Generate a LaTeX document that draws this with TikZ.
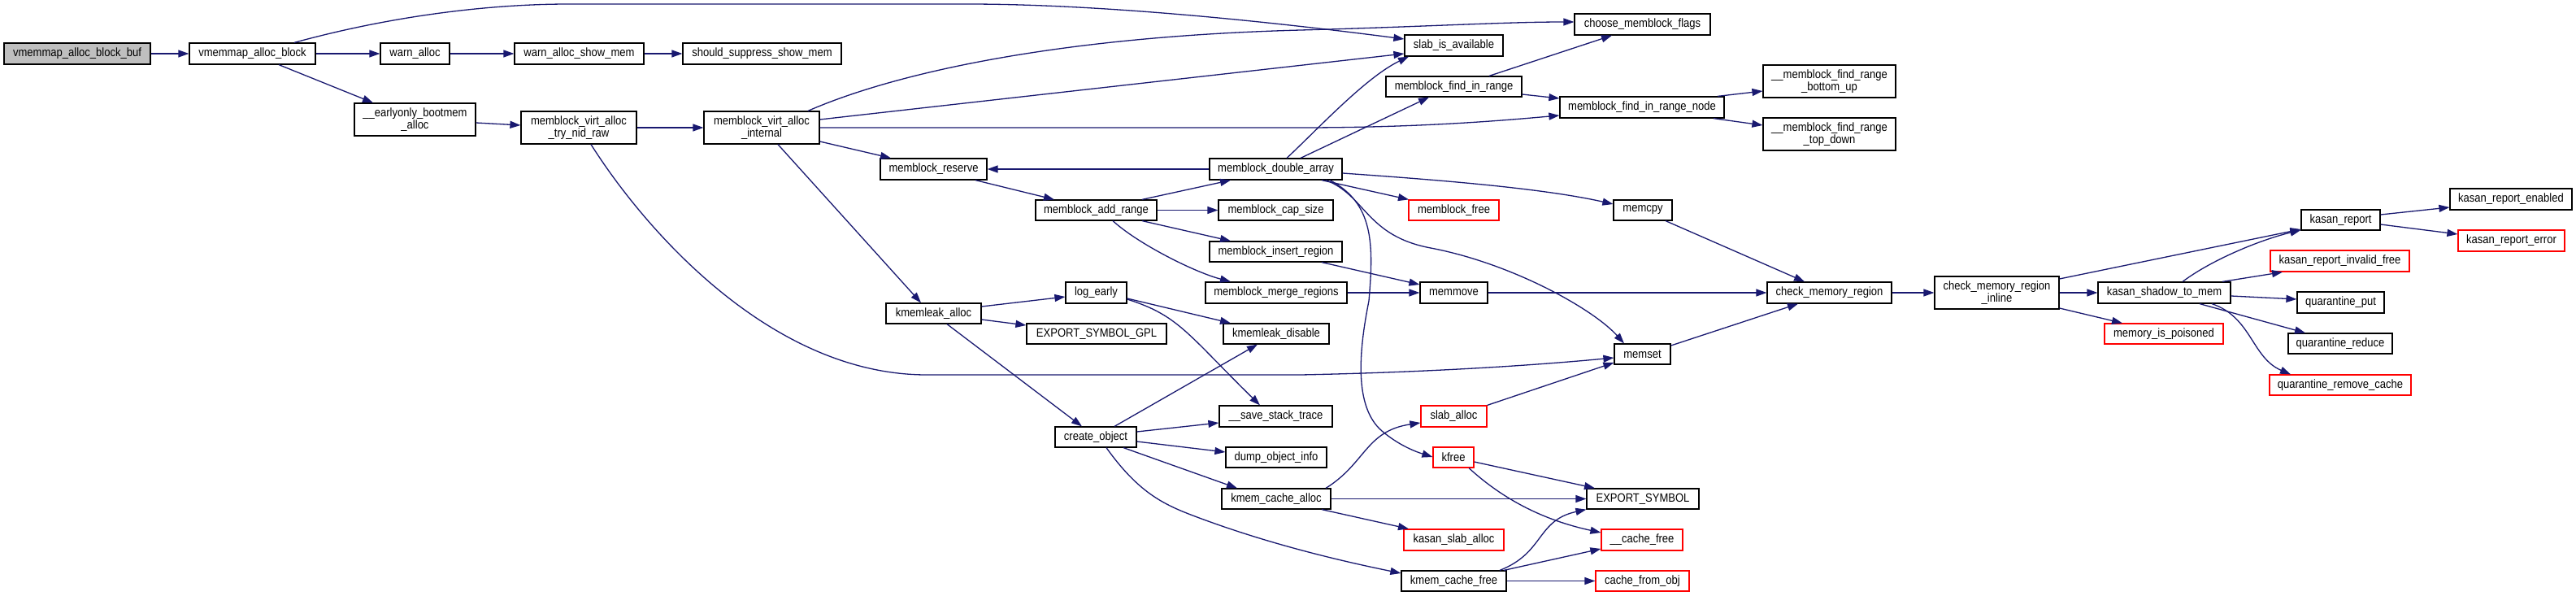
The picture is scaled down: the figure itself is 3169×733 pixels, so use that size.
\documentclass[tikz,border=0pt]{standalone}
\usepackage{fontspec}
\usetikzlibrary{arrows.meta}
\newfontfamily\nf{Liberation Sans}[FakeStretch=0.88]
\definecolor{edgeblue}{HTML}{191970}
\definecolor{rootgray}{HTML}{BFBFBF}
\definecolor{nodered}{HTML}{FF0000}
\tikzset{
  fn/.style={draw=black, line width=1.2pt, fill=white, inner sep=0pt, align=center,
    font=\nf\fontsize{14.8}{15.5}\selectfont},
  fnred/.style={fn, draw=nodered},
  fnroot/.style={fn, fill=rootgray},
  call/.style={draw=edgeblue, line width=1.3pt, -{Triangle[length=13pt,width=9pt]}},
}
\begin{document}
\begin{tikzpicture}[x=1pt,y=-1pt]
\fill[white] (0,0) rectangle (3169,733);
\useasboundingbox (0,0) rectangle (3169,733);
% nodes
\node[fnroot, minimum width=180pt, minimum height=26pt] (n1) at (95,66) {vmemmap\_alloc\_block\_buf};
\node[fn, minimum width=155pt, minimum height=26pt] (n2) at (310.5,66) {vmemmap\_alloc\_block};
\node[fn, minimum width=85pt, minimum height=26pt] (n3) at (510.5,66) {warn\_alloc};
\node[fn, minimum width=159pt, minimum height=26pt] (n4) at (712.5,66) {warn\_alloc\_show\_mem};
\node[fn, minimum width=195pt, minimum height=26pt] (n5) at (937.5,66) {should\_suppress\_show\_mem};
\node[fn, minimum width=149pt, minimum height=40pt] (n6) at (510.5,147) {\_\_earlyonly\_bootmem\\\_alloc};
\node[fn, minimum width=142pt, minimum height=40pt] (n7) at (712,157) {memblock\_virt\_alloc\\\_try\_nid\_raw};
\node[fn, minimum width=142pt, minimum height=40pt] (n8) at (937,157) {memblock\_virt\_alloc\\\_internal};
\node[fn, minimum width=131pt, minimum height=26pt] (n9) at (1148.5,208) {memblock\_reserve};
\node[fn, minimum width=163pt, minimum height=26pt] (n10) at (1569.5,208) {memblock\_double\_array};
\node[fn, minimum width=149pt, minimum height=25pt] (n11) at (1348.5,258.5) {memblock\_add\_range};
\node[fn, minimum width=141pt, minimum height=25pt] (n12) at (1569.5,258.5) {memblock\_cap\_size};
\node[fn, minimum width=163pt, minimum height=25pt] (n13) at (1569.5,309.5) {memblock\_insert\_region};
\node[fn, minimum width=174pt, minimum height=26pt] (n14) at (1570,360) {memblock\_merge\_regions};
\node[fn, minimum width=75pt, minimum height=26pt] (n15) at (1348.5,360) {log\_early};
\node[fn, minimum width=117pt, minimum height=25pt] (n16) at (1148.5,385.5) {kmemleak\_alloc};
\node[fn, minimum width=172pt, minimum height=25pt] (n17) at (1349,410.5) {EXPORT\_SYMBOL\_GPL};
\node[fn, minimum width=130pt, minimum height=25pt] (n18) at (1570,410.5) {kmemleak\_disable};
\node[fn, minimum width=139pt, minimum height=26pt] (n19) at (1569.5,512) {\_\_save\_stack\_trace};
\node[fn, minimum width=100pt, minimum height=25pt] (n20) at (1348,537.5) {create\_object};
\node[fn, minimum width=124pt, minimum height=25pt] (n21) at (1570,562.5) {dump\_object\_info};
\node[fn, minimum width=134pt, minimum height=25pt] (n22) at (1570,613.5) {kmem\_cache\_alloc};
\node[fn, minimum width=167pt, minimum height=26pt] (n23) at (2020.5,30) {choose\_memblock\_flags};
\node[fn, minimum width=121pt, minimum height=26pt] (n24) at (1788.5,56) {slab\_is\_available};
\node[fn, minimum width=167pt, minimum height=25pt] (n25) at (1788.5,106.5) {memblock\_find\_in\_range};
\node[fn, minimum width=202pt, minimum height=26pt] (n26) at (2020,132) {memblock\_find\_in\_range\_node};
\node[fn, minimum width=163pt, minimum height=40pt] (n27) at (2250.5,100) {\_\_memblock\_find\_range\\\_bottom\_up};
\node[fn, minimum width=163pt, minimum height=40pt] (n28) at (2250.5,165) {\_\_memblock\_find\_range\\\_top\_down};
\node[fnred, minimum width=111pt, minimum height=25pt] (n29) at (1788.5,258.5) {memblock\_free};
\node[fn, minimum width=72pt, minimum height=25pt] (n30) at (2021,258.5) {memcpy};
\node[fn, minimum width=83pt, minimum height=26pt] (n31) at (1788.5,360) {memmove};
\node[fn, minimum width=153pt, minimum height=26pt] (n32) at (2250.5,360) {check\_memory\_region};
\node[fn, minimum width=153pt, minimum height=40pt] (n33) at (2456.5,360) {check\_memory\_region\\\_inline};
\node[fn, minimum width=69pt, minimum height=25pt] (n34) at (2020.5,435.5) {memset};
\node[fnred, minimum width=81pt, minimum height=26pt] (n35) at (1788.5,512) {slab\_alloc};
\node[fnred, minimum width=50pt, minimum height=25pt] (n36) at (1788,562.5) {kfree};
\node[fn, minimum width=138pt, minimum height=25pt] (n37) at (2021,613.5) {EXPORT\_SYMBOL};
\node[fnred, minimum width=123pt, minimum height=26pt] (n38) at (1788.5,664) {kasan\_slab\_alloc};
\node[fnred, minimum width=100pt, minimum height=26pt] (n39) at (2020,664) {\_\_cache\_free};
\node[fn, minimum width=129pt, minimum height=25pt] (n40) at (1788.5,714.5) {kmem\_cache\_free};
\node[fnred, minimum width=115pt, minimum height=25pt] (n41) at (2020.5,714.5) {cache\_from\_obj};
\node[fn, minimum width=150pt, minimum height=26pt] (n42) at (3089,245) {kasan\_report\_enabled};
\node[fn, minimum width=97pt, minimum height=25pt] (n43) at (2879.5,270.5) {kasan\_report};
\node[fnred, minimum width=131pt, minimum height=26pt] (n44) at (3089.5,296) {kasan\_report\_error};
\node[fnred, minimum width=171pt, minimum height=26pt] (n45) at (2878.5,321) {kasan\_report\_invalid\_free};
\node[fn, minimum width=163pt, minimum height=26pt] (n46) at (2662.5,360) {kasan\_shadow\_to\_mem};
\node[fn, minimum width=107pt, minimum height=26pt] (n47) at (2879.5,372) {quarantine\_put};
\node[fnred, minimum width=146pt, minimum height=25pt] (n48) at (2662,410.5) {memory\_is\_poisoned};
\node[fn, minimum width=128pt, minimum height=25pt] (n49) at (2879,422.5) {quarantine\_reduce};
\node[fnred, minimum width=174pt, minimum height=25pt] (n50) at (2879,473.5) {quarantine\_remove\_cache};
% edges
\draw[call] (n1.east) -- (n2.west);
\draw[call] (n2.east) -- (n3.west);
\draw[call] (n2.south -| 343,0) -- (n6.north -| 459,0);
\draw[call] (n2.north -| 362,0) .. controls (480,20) and (600,5) .. (700,5) -- (1190,5) .. controls (1350,5) and (1550,25) .. (n24.west |- 0,48);
\draw[call] (n3.east) -- (n4.west);
\draw[call] (n4.east) -- (n5.west);
\draw[call] (n6.east |- 0,151) -- (n7.west |- 0,154);
\draw[call] (n7.east) -- (n8.west);
\draw[call] (n7.south -| 727,0) .. controls (795,285) and (950,461) .. (1140,461) -- (1600,461) .. controls (1750,458) and (1880,450) .. (n34.west |- 0,440);
\draw[call] (n8.east |- 0,147) -- (n24.west |- 0,66);
\draw[call] (n8.north -| 994,0) .. controls (1100,90) and (1300,45) .. (1600,37) .. controls (1750,33) and (1850,27) .. (n23.west |- 0,27);
\draw[call] (n8.east |- 0,157) -- (1600,157) .. controls (1750,157) and (1850,148) .. (n26.west |- 0,142);
\draw[call] (n8.east |- 0,174) -- (n9.north -| 1096,0);
\draw[call] (n8.south -| 957,0) -- (n16.north -| 1133,0);
\draw[call] (n9.south -| 1200,0) -- (n11.north -| 1297,0);
\draw[call] (n10.west) -- (n9.east);
\draw[call] (n11.north -| 1405,0) -- (n10.south -| 1514,0);
\draw[call] (n11.east) -- (n12.west);
\draw[call] (n11.south -| 1405,0) -- (n13.north -| 1514,0);
\draw[call] (n11.south -| 1369,0) .. controls (1400,300) and (1470,335) .. (n14.north -| 1514,0);
\draw[call] (n10.north -| 1583,0) .. controls (1620,160) and (1680,95) .. (n24.south -| 1733,0);
\draw[call] (n10.north -| 1600,0) -- (n25.south -| 1758,0);
\draw[call] (n10.south -| 1626,0) -- (n29.north -| 1733,0);
\draw[call] (n10.east |- 0,213) .. controls (1780,222) and (1900,232) .. (n30.west |- 0,251);
\draw[call] (n10.south -| 1631,0) .. controls (1680,240) and (1680,290) .. (1760,305) .. controls (1860,324) and (1960,380) .. (n34.north -| 1998,0);
\draw[call] (n10.south -| 1636,0) .. controls (1690,250) and (1690,300) .. (1684,370) .. controls (1672,430) and (1665,500) .. (1700,530) .. controls (1720,547) and (1740,555) .. (n36.west |- 0,562);
\draw[call] (n25.north -| 1832,0) -- (n23.south -| 1983,0);
\draw[call] (n25.east |- 0,116) -- (n26.west |- 0,121);
\draw[call] (n26.north -| 2113,0) -- (n27.west |- 0,112);
\draw[call] (n26.south -| 2108,0) -- (n28.west |- 0,154);
\draw[call] (n13.south -| 1626,0) -- (n31.west |- 0,350);
\draw[call] (n14.east) -- (n31.west);
\draw[call] (n31.east) -- (n32.west);
\draw[call] (n30.south -| 2049,0) -- (n32.north -| 2220,0);
\draw[call] (n34.east |- 0,425) -- (n32.south -| 2212,0);
\draw[call] (n32.east) -- (n33.west);
\draw[call] (n33.east |- 0,343) -- (n43.west |- 0,282);
\draw[call] (n33.east) -- (n46.west);
\draw[call] (n33.east |- 0,379) -- (n48.north -| 2611,0);
\draw[call] (n46.north -| 2685,0) .. controls (2720,320) and (2780,295) .. (n43.west |- 0,283);
\draw[call] (n46.north -| 2734,0) -- (n45.south -| 2808,0);
\draw[call] (n46.east |- 0,364) -- (n47.west |- 0,368);
\draw[call] (n46.south -| 2706,0) -- (n49.north -| 2836,0);
\draw[call] (n46.south -| 2721,0) .. controls (2770,390) and (2770,440) .. (n50.north -| 2818,0);
\draw[call] (n43.east |- 0,264) -- (n42.west |- 0,255);
\draw[call] (n43.east |- 0,276) -- (n44.west |- 0,288);
\draw[call] (n16.east |- 0,377) -- (n15.west |- 0,365);
\draw[call] (n16.east |- 0,393) -- (n17.west |- 0,400);
\draw[call] (n16.south -| 1165,0) -- (n20.north -| 1331,0);
\draw[call] (n15.east |- 0,367) -- (n18.north -| 1514,0);
\draw[call] (n15.east |- 0,368) .. controls (1450,388) and (1460,410) .. (n19.north -| 1550,0);
\draw[call] (n20.north -| 1371,0) -- (n18.south -| 1547,0);
\draw[call] (n20.east |- 0,531) -- (n19.west |- 0,520);
\draw[call] (n20.east |- 0,543) -- (n21.west |- 0,556);
\draw[call] (n20.south -| 1382,0) -- (n22.north -| 1522,0);
\draw[call] (n20.south -| 1361,0) .. controls (1400,605) and (1430,620) .. (1470,635) .. controls (1560,669) and (1650,690) .. (n40.west |- 0,705);
\draw[call] (n22.north -| 1631,0) .. controls (1680,570) and (1680,530) .. (n35.west |- 0,520);
\draw[call] (n22.east) -- (n37.west);
\draw[call] (n22.south -| 1626,0) -- (n38.north -| 1733,0);
\draw[call] (n35.north east) -- (n34.west |- 0,446);
\draw[call] (n36.east |- 0,568) -- (n37.north -| 1962,0);
\draw[call] (n36.south -| 1807,0) .. controls (1850,615) and (1900,640) .. (n39.west |- 0,655);
\draw[call] (n40.north -| 1845,0) .. controls (1900,680) and (1890,640) .. (n37.south west);
\draw[call] (n40.north -| 1850,0) -- (n39.west |- 0,675);
\draw[call] (n40.east) -- (n41.west);
\end{tikzpicture}
\end{document}
